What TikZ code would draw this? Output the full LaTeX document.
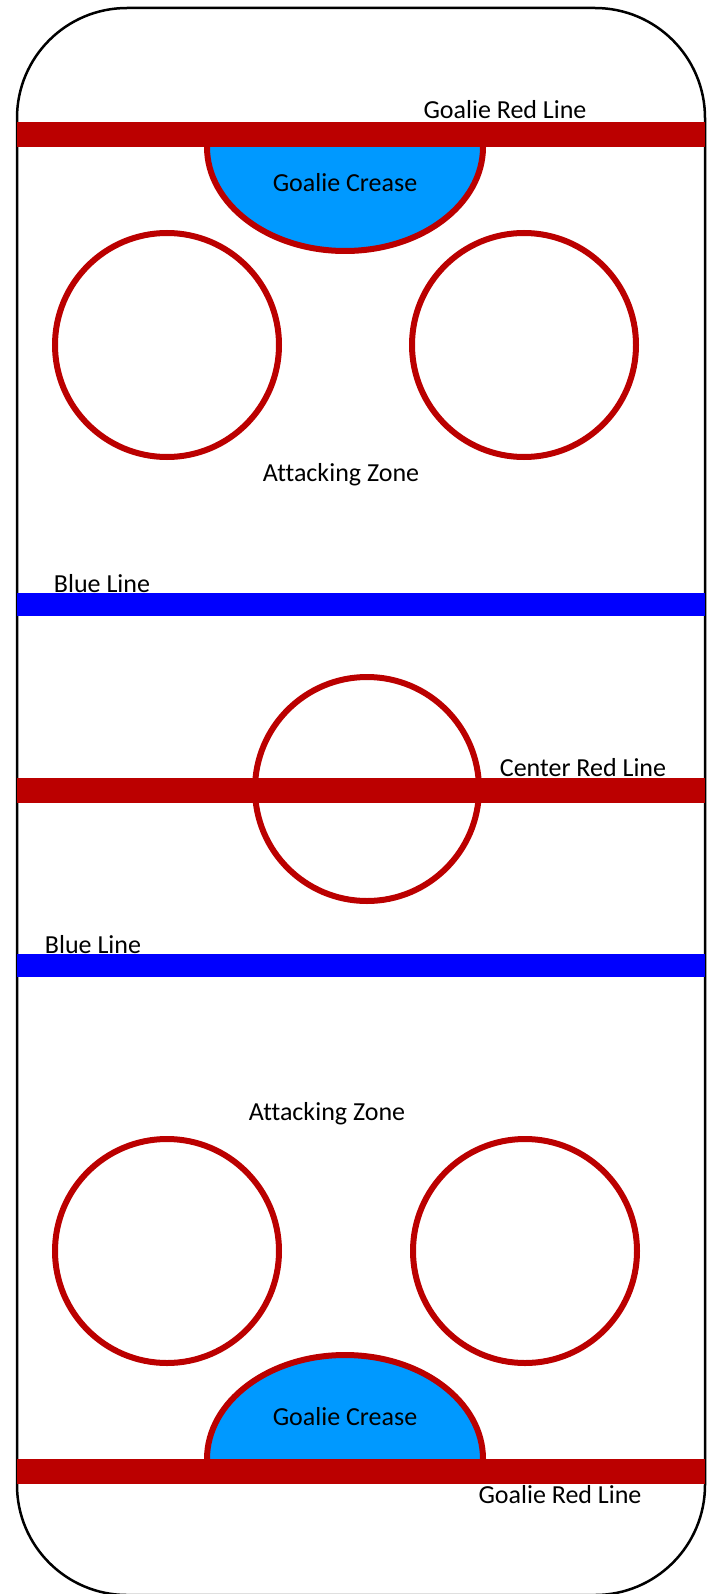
\documentclass[tikz,border=0pt]{standalone}
\usepackage{fontspec}
\setmainfont{Carlito}[Ligatures=CommonOff]
\usepackage{tikz}
\usetikzlibrary{positioning}
\definecolor{rinkRed}{RGB}{187,0,0}
\definecolor{rinkBlue}{RGB}{0,0,255}
\definecolor{creaseBlue}{RGB}{0,153,255}

\begin{document}
\begin{tikzpicture}[x=1pt, y=-1pt,
    lbl/.style={inner sep=0pt, font=\fontsize{26}{30}\selectfont},
    faceoff/.style={draw=rinkRed, line width=6pt},
    crease/.style={fill=creaseBlue, draw=rinkRed, line width=6pt}]
      \useasboundingbox (0,0) rectangle (710,1594);
      % Boards
      \draw[line width=2.5pt, rounded corners=110pt] (17,8) rectangle (705,1595);
      % Goalie creases
      \filldraw[crease] (207,135) -- (207,147) arc[start angle=180, end angle=0, x radius=138, y radius=104] -- (483,135) -- cycle;
      \filldraw[crease] (207,1471) -- (207,1459) arc[start angle=180, end angle=360, x radius=138, y radius=104] -- (483,1471) -- cycle;
      % Red and blue lines
      \fill[rinkRed] (17,122) rectangle (705,147);
      \fill[rinkBlue] (17,593) rectangle (705,616);
      \fill[rinkRed] (17,778) rectangle (705,803);
      \fill[rinkBlue] (17,954) rectangle (705,977);
      \fill[rinkRed] (17,1459) rectangle (705,1484);
      % Faceoff circles
      \draw[faceoff] (167,345) circle[radius=112];
      \draw[faceoff] (524,345) circle[radius=112];
      \draw[faceoff] (367,789) circle[radius=112];
      \draw[faceoff] (167,1251) circle[radius=112];
      \draw[faceoff] (525,1251) circle[radius=112];
      % Labels
      \node[lbl] (goalTop) at (505,110) {Goalie Red Line};
      \node[lbl] (creaseTop) at (345,183) {Goalie Crease};
      \node[lbl] (zoneTop) at (341,475) {Attacking Zone};
      \node[lbl] (blueTop) at (102,584) {Blue Line};
      \node[lbl] (center) at (583,768) {Center Red Line};
      \node[lbl] (blueBot) at (93,945) {Blue Line};
      \node[lbl] (zoneBot) at (327,1114) {Attacking Zone};
      \node[lbl] (creaseBot) at (345,1417) {Goalie Crease};
      \node[lbl] (goalBot) at (560,1495) {Goalie Red Line};
    \end{tikzpicture}
\end{document}
